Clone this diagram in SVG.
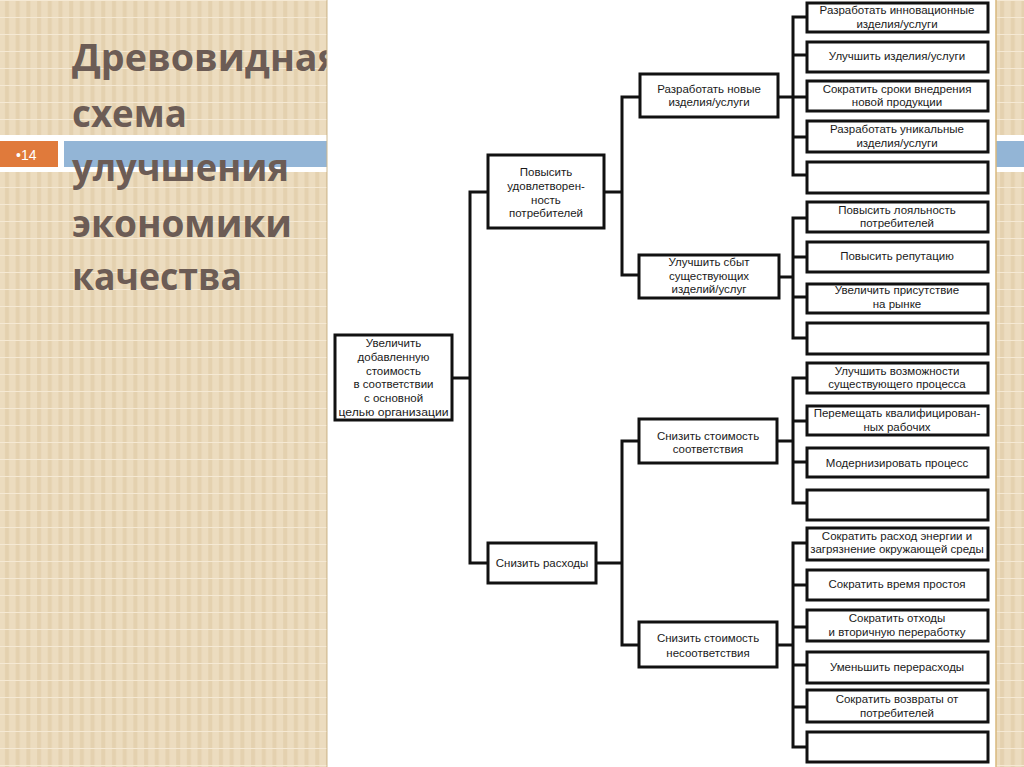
<svg xmlns="http://www.w3.org/2000/svg" width="1024" height="767" viewBox="0 0 1024 767">
<defs>
<pattern id="paper" patternUnits="userSpaceOnUse" x="0" y="0" width="10.7" height="17">
<rect width="10.7" height="17" fill="#ecdcbf"/>
<rect x="5" width="4" height="17" fill="#e4d1af"/>
<rect y="0" width="10.7" height="1" fill="#f5e9d4"/>
</pattern>
<style>
.box{fill:#fff;stroke:#111;stroke-width:3}
.ln{fill:none;stroke:#111;stroke-width:3;stroke-linecap:square}
.t{font-family:"Liberation Sans",Arial,sans-serif;font-size:11.5px;fill:#1a1a1a;text-anchor:middle}
.title{font-family:"Open Sans","DejaVu Sans",sans-serif;font-weight:bold;font-size:37px;fill:#6c5c55}
</style>
</defs>
<rect width="1024" height="767" fill="url(#paper)"/>
<!-- slide bar -->
<rect x="0" y="135" width="1024" height="37" fill="#ffffff"/>
<rect x="0" y="141" width="58" height="26" fill="#e07a3b"/>
<rect x="64" y="141" width="960" height="26" fill="#93b5d6"/>
<text x="16" y="160" style="font-family:'Liberation Sans',Arial,sans-serif;font-size:14px;fill:#fff">•14</text>
<!-- title -->
<g id="title">
<text class="title" x="72" y="71" textLength="268" lengthAdjust="spacingAndGlyphs">Древовидная</text>
<text class="title" x="72" y="127" textLength="115" lengthAdjust="spacingAndGlyphs">схема</text>
<text class="title" x="72" y="181" textLength="217" lengthAdjust="spacingAndGlyphs">улучшения</text>
<text class="title" x="72" y="237" textLength="220" lengthAdjust="spacingAndGlyphs">экономики</text>
<text class="title" x="72" y="290" textLength="170" lengthAdjust="spacingAndGlyphs">качества</text>
</g>
<!-- white picture area -->
<rect x="327" y="0" width="669" height="767" fill="#ffffff"/>
<line x1="327" y1="0" x2="327" y2="767" stroke="#cdb78c" stroke-width="1"/>
<line x1="996" y1="0" x2="996" y2="767" stroke="#d9b97e" stroke-width="1.5"/>

<g id="connectors">
<path class="ln" d="M452 378H470M470 192V563M470 192H488M470 563H488"/>
<path class="ln" d="M604 192H622M622 97V275M622 97H640M622 275H639"/>
<path class="ln" d="M596 563H622M622 441V645M622 441H639M622 645H639"/>
<path class="ln" d="M778 97H793M793 17V175M793 17H807M793 55H807M793 97H807M793 137H807M793 175H807"/>
<path class="ln" d="M779 277H793M793 218V338M793 218H807M793 257H807M793 297H807M793 338H807"/>
<path class="ln" d="M777 441H793M793 378V503M793 378H807M793 421H807M793 462H807M793 503H807"/>
<path class="ln" d="M777 645H793M793 543V747M793 543H807M793 585H807M793 627H807M793 665H807M793 707H807M793 747H807"/>
</g>

<g id="root">
<rect class="box" x="335" y="335" width="117" height="85"/>
<text class="t" x="393.5" y="347">Увеличить</text>
<text class="t" x="393.5" y="361">добавленную</text>
<text class="t" x="393.5" y="375">стоимость</text>
<text class="t" x="393.5" y="388">в соответствии</text>
<text class="t" x="393.5" y="402">с основной</text>
<text class="t" x="393.5" y="416" textLength="110" lengthAdjust="spacingAndGlyphs">целью организации</text>
</g>

<g id="n-satisfaction">
<rect class="box" x="488" y="155" width="116" height="73"/>
<text class="t" x="546" y="176">Повысить</text>
<text class="t" x="546" y="190">удовлетворен-</text>
<text class="t" x="546" y="204">ность</text>
<text class="t" x="546" y="217">потребителей</text>
</g>

<g id="n-costs">
<rect class="box" x="488" y="543" width="108" height="40"/>
<text class="t" x="542" y="567">Снизить расходы</text>
</g>

<g id="n-new">
<rect class="box" x="640" y="74" width="138" height="43"/>
<text class="t" x="709" y="93">Разработать новые</text>
<text class="t" x="709" y="106">изделия/услуги</text>
</g>

<g id="n-sales">
<rect class="box" x="639" y="255" width="140" height="43"/>
<text class="t" x="709" y="266">Улучшить сбыт</text>
<text class="t" x="709" y="280">существующих</text>
<text class="t" x="709" y="293">изделий/услуг</text>
</g>

<g id="n-conf">
<rect class="box" x="639" y="419" width="138" height="44"/>
<text class="t" x="708" y="440">Снизить стоимость</text>
<text class="t" x="708" y="453">соответствия</text>
</g>

<g id="n-nonconf">
<rect class="box" x="639" y="622" width="138" height="45"/>
<text class="t" x="708" y="642">Снизить стоимость</text>
<text class="t" x="708" y="657">несоответствия</text>
</g>

<g id="leaf-1-1"><rect class="box" x="807" y="3" width="181" height="29"/>
<text class="t" x="897" y="14">Разработать инновационные</text>
<text class="t" x="897" y="28">изделия/услуги</text></g>
<g id="leaf-1-2"><rect class="box" x="807" y="42" width="181" height="30"/>
<text class="t" x="897" y="60">Улучшить изделия/услуги</text></g>
<g id="leaf-1-3"><rect class="box" x="807" y="81" width="181" height="30"/>
<text class="t" x="897" y="93">Сократить сроки внедрения</text>
<text class="t" x="897" y="106">новой продукции</text></g>
<g id="leaf-1-4"><rect class="box" x="807" y="121" width="181" height="31"/>
<text class="t" x="897" y="133">Разработать уникальные</text>
<text class="t" x="897" y="147">изделия/услуги</text></g>
<g id="leaf-1-5"><rect class="box" x="807" y="162" width="181" height="31"/></g>

<g id="leaf-2-1"><rect class="box" x="807" y="202" width="181" height="30"/>
<text class="t" x="897" y="214">Повысить лояльность</text>
<text class="t" x="897" y="227">потребителей</text></g>
<g id="leaf-2-2"><rect class="box" x="807" y="242" width="181" height="30"/>
<text class="t" x="897" y="260">Повысить репутацию</text></g>
<g id="leaf-2-3"><rect class="box" x="807" y="284" width="181" height="29"/>
<text class="t" x="897" y="294">Увеличить присутствие</text>
<text class="t" x="897" y="308">на рынке</text></g>
<g id="leaf-2-4"><rect class="box" x="807" y="323" width="181" height="31"/></g>

<g id="leaf-3-1"><rect class="box" x="807" y="363" width="181" height="30"/>
<text class="t" x="897" y="375">Улучшить возможности</text>
<text class="t" x="897" y="388">существующего процесса</text></g>
<g id="leaf-3-2"><rect class="box" x="807" y="406" width="181" height="29"/>
<text class="t" x="897" y="417">Перемещать квалифицирован-</text>
<text class="t" x="897" y="431">ных рабочих</text></g>
<g id="leaf-3-3"><rect class="box" x="807" y="448" width="181" height="29"/>
<text class="t" x="897" y="467">Модернизировать процесс</text></g>
<g id="leaf-3-4"><rect class="box" x="807" y="490" width="181" height="30"/></g>

<g id="leaf-4-1"><rect class="box" x="807" y="528" width="181" height="32"/>
<text class="t" x="897" y="540">Сократить расход энергии и</text>
<text class="t" x="897" y="553">загрязнение окружающей среды</text></g>
<g id="leaf-4-2"><rect class="box" x="807" y="570" width="181" height="30"/>
<text class="t" x="897" y="588">Сократить время простоя</text></g>
<g id="leaf-4-3"><rect class="box" x="807" y="610" width="181" height="31"/>
<text class="t" x="897" y="622">Сократить отходы</text>
<text class="t" x="897" y="636">и вторичную переработку</text></g>
<g id="leaf-4-4"><rect class="box" x="807" y="652" width="181" height="31"/>
<text class="t" x="897" y="671">Уменьшить перерасходы</text></g>
<g id="leaf-4-5"><rect class="box" x="807" y="690" width="181" height="32"/>
<text class="t" x="897" y="703">Сократить возвраты от</text>
<text class="t" x="897" y="717">потребителей</text></g>
<g id="leaf-4-6"><rect class="box" x="807" y="732" width="181" height="30"/></g>
</svg>
